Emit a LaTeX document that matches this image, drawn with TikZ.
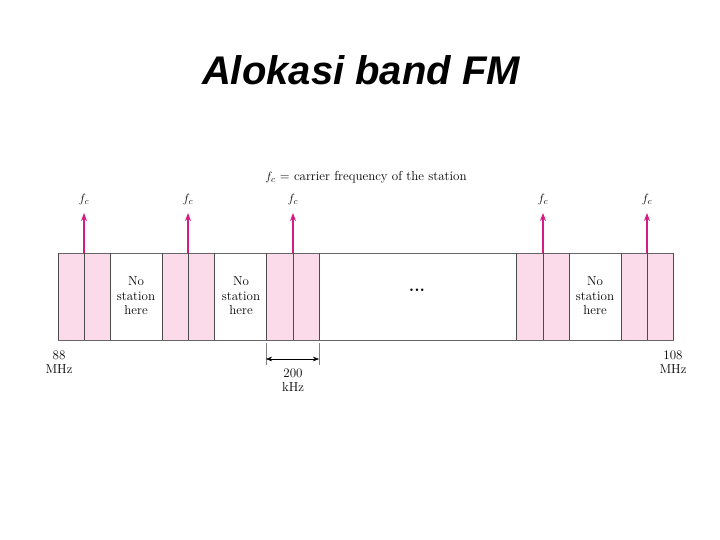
\documentclass[tikz,border=0pt]{standalone}
\usepackage{fontspec}
\usetikzlibrary{arrows.meta}
\newfontfamily\titlefont{Liberation Sans}
\definecolor{bandpink}{RGB}{251,218,233}
\definecolor{carrier}{RGB}{214,28,130}
\begin{document}
\begin{tikzpicture}[x=1pt,y=-1pt]
    \useasboundingbox (0,0) rectangle (720,540);
    \node (title) at (361,70) {\titlefont\bfseries\itshape\fontsize{40}{46}\selectfont Alokasi band FM};
    \node (legend) at (366,177) {\fontsize{13}{15}\selectfont $f_c$ = carrier frequency of the station};

    % occupied channels
    \begin{scope}[every path/.style={fill=bandpink}]
        \fill (58,253) rectangle (110,340);
        \fill (162,253) rectangle (214,340);
        \fill (266,253) rectangle (319,340);
        \fill (516,253) rectangle (569,340);
        \fill (621,253) rectangle (673,340);
    \end{scope}
    \draw[gray!80!black] (58,253) rectangle (673,340);
    \foreach \x in {58,84,110,162,188,214,266,293,319,516,543,569,621,647,673}
        \draw[gray!60!black,thick] (\x,253) -- (\x,340);

    % carriers
    \begin{scope}[every node/.style={font=\fontsize{13}{14.5}\selectfont}]
        \foreach \x [count=\i] in {84,188,293,543,647} {
            \coordinate (b\i) at (\x,253);
            \node (f\i) at (\x,200) {$f_c$};
            \draw[carrier,line width=1.5pt,-{Stealth[length=8pt,width=6pt]}] (b\i) -- (\x,213);
        }
        \node[align=center] (n1) at (136,296) {No\\station\\here};
        \node[align=center] (n2) at (241,296) {No\\station\\here};
        \node[align=center] (n3) at (595,296) {No\\station\\here};
        \node (dots) at (417,290) {\LARGE\bfseries ...};
        \node[align=center] (lo) at (59,362) {88\\MHz};
        \node[align=center] (hi) at (673,362) {108\\MHz};
        \node[align=center] (bw) at (293,380) {200\\kHz};
    \end{scope}

    % channel width
    \coordinate (wl) at (266,359);
    \coordinate (wr) at (319,359);
    \draw[gray] (266,343) -- (266,365) (319,343) -- (319,365);
    \draw[{Stealth[length=6pt]}-{Stealth[length=6pt]}] (wl) -- (wr);
\end{tikzpicture}
\end{document}
